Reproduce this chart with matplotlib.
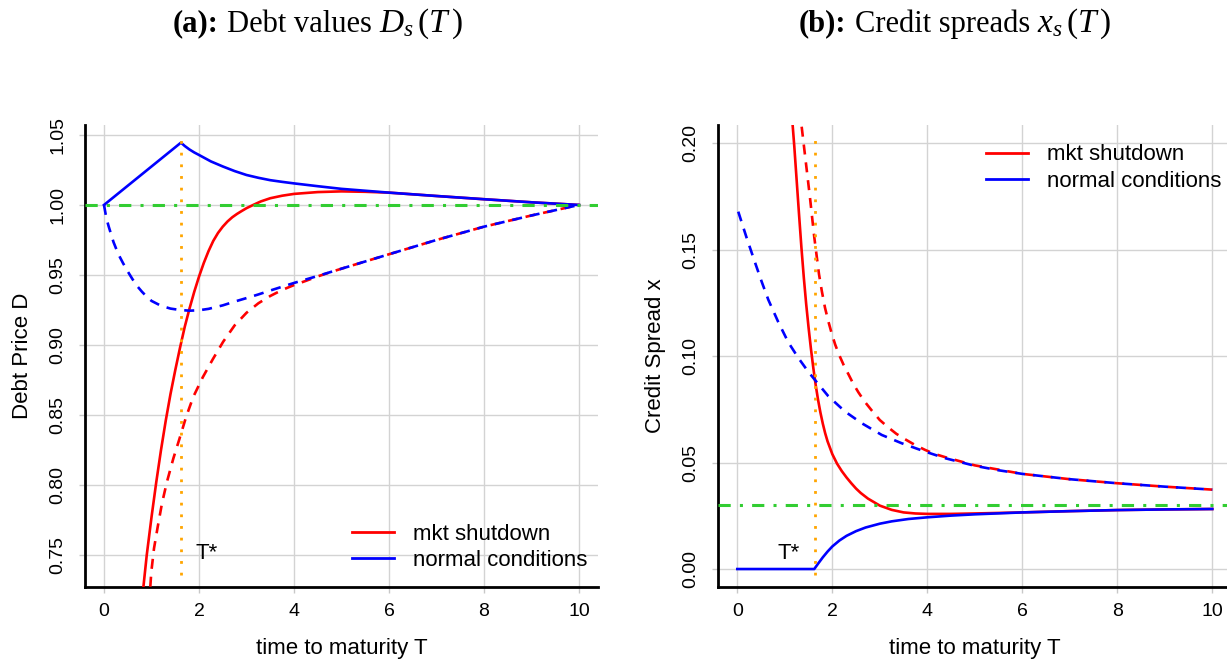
import matplotlib
matplotlib.use("Agg")
import matplotlib.pyplot as plt
from matplotlib.lines import Line2D

# ---------------- data ----------------
T_STAR = 1.63

# Panel (a): debt values D
T_a_norm_solid = [0, 1.62, 1.7, 1.8, 1.9, 2.0, 2.25, 2.5, 2.75, 3.0, 3.25, 3.5, 3.75, 4.0, 4.5, 5.0,
                  6.0, 7.0, 8.0, 9.0, 10.0]
D_a_norm_solid = [1.000, 1.0445, 1.0421, 1.0396, 1.0375, 1.0357, 1.0311, 1.0275, 1.0242, 1.0214,
                  1.0194, 1.0177, 1.0165, 1.0154, 1.0134, 1.0115, 1.0088, 1.0064, 1.0041, 1.0019, 1.000]

T_a_shut_solid = [0.83, 0.9, 1.0, 1.1, 1.2, 1.3, 1.4, 1.5, 1.6, 1.7, 1.8, 1.9, 2.0, 2.1, 2.2, 2.3,
                  2.4, 2.5, 2.6, 2.7, 2.8, 2.9, 3.0, 3.14, 3.3, 3.5, 3.75, 4.0, 4.5, 5.0, 5.5, 6.0,
                  7.0, 8.0, 9.0, 10.0]
D_a_shut_solid = [0.7274, 0.750, 0.777, 0.802, 0.825, 0.846, 0.865, 0.882, 0.898, 0.913, 0.926,
                  0.938, 0.9488, 0.9585, 0.967, 0.9743, 0.980, 0.9845, 0.9882, 0.9912, 0.9936,
                  0.9957, 0.9977, 1.000, 1.0025, 1.0048, 1.0066, 1.0079, 1.0092, 1.0097, 1.0094,
                  1.0088, 1.0064, 1.0041, 1.0019, 1.000]

T_a_shut_dash = [0.975, 0.996, 1.053, 1.13, 1.221, 1.326, 1.46, 1.585, 1.73, 1.88, 2.08, 2.29, 2.51,
                 2.75, 3.0, 3.25, 3.5, 3.75, 4.0, 4.25, 4.5, 4.75, 5.0, 6.0, 7.0, 8.0, 9.0, 10.0]
D_a_shut_dash = [0.7274, 0.738, 0.7548, 0.770, 0.787, 0.8024, 0.819, 0.8326, 0.8488, 0.863, 0.877,
                 0.8898, 0.9024, 0.9140, 0.9230, 0.9298, 0.9350, 0.9393, 0.9428, 0.9458, 0.9490,
                 0.9518, 0.9545, 0.9648, 0.975, 0.9845, 0.9925, 1.000]

T_a_norm_dash = [0, 0.05, 0.1, 0.2, 0.3, 0.4, 0.5, 0.6, 0.7, 0.8, 0.9, 1.0, 1.2, 1.4, 1.6, 1.8,
                 2.0, 2.2, 2.5, 2.75, 3.0, 3.25, 3.5, 3.75, 4.0, 4.5, 5.0, 6.0, 7.0, 8.0, 9.0, 10.0]
D_a_norm_dash = [1.000, 0.9905, 0.9845, 0.9735, 0.9650, 0.9585, 0.9525, 0.9470, 0.9420, 0.9380,
                 0.9345, 0.9315, 0.9280, 0.9260, 0.9250, 0.9245, 0.9248, 0.9258, 0.9283, 0.9310,
                 0.9335, 0.9361, 0.9389, 0.9416, 0.9443, 0.9493, 0.9545, 0.9648, 0.975, 0.9845,
                 0.9925, 1.000]

# Panel (b): credit spreads x
T_b_shut_solid = [1.166, 1.2, 1.25, 1.3, 1.35, 1.4, 1.45, 1.5, 1.55, 1.6, 1.65, 1.7, 1.75, 1.8,
                  1.85, 1.9, 2.0, 2.1, 2.2, 2.3, 2.4, 2.5, 2.6, 2.75, 3.0, 3.25, 3.5, 3.75, 4.0,
                  4.5, 5.0, 6.0, 7.0, 8.0, 9.0, 10.0]
X_b_shut_solid = [0.2083, 0.1985, 0.1825, 0.1665, 0.1510, 0.1370, 0.1245, 0.1135, 0.1035, 0.0945,
                  0.0865, 0.0795, 0.0735, 0.0683, 0.0638, 0.0600, 0.0540, 0.0495, 0.0460, 0.0430,
                  0.0403, 0.0378, 0.0357, 0.0331, 0.0298, 0.0278, 0.0266, 0.0261, 0.0259, 0.0259,
                  0.0261, 0.0266, 0.0272, 0.0277, 0.0280, 0.0282]

T_b_norm_solid = [0, 1.62, 1.7, 1.8, 1.9, 2.0, 2.15, 2.3, 2.5, 2.7, 3.0, 3.25, 3.6, 4.0, 4.5, 5.0,
                  6.0, 7.0, 8.0, 9.0, 10.0]
X_b_norm_solid = [0, 0, 0.0025, 0.0055, 0.0082, 0.0106, 0.0134, 0.0156, 0.0178, 0.0195, 0.0213,
                  0.0224, 0.0235, 0.0243, 0.0251, 0.0257, 0.0266, 0.0272, 0.0277, 0.0280, 0.0282]

T_b_shut_dash = [1.355, 1.425, 1.53, 1.62, 1.72, 1.78, 1.846, 1.915, 1.987, 2.06, 2.14, 2.24, 2.34,
                 2.44, 2.55, 2.68, 2.83, 3.0, 3.18, 3.35, 3.53, 3.74, 3.95, 4.15, 4.37, 5.0, 6.0,
                 7.0, 8.0, 9.0, 10.0]
X_b_shut_dash = [0.2078, 0.1945, 0.1745, 0.1560, 0.1385, 0.1305, 0.1228, 0.1165, 0.1107, 0.1055,
                 0.1008, 0.0958, 0.0915, 0.0871, 0.0830, 0.0787, 0.0745, 0.0700, 0.0665, 0.0635,
                 0.0610, 0.0583, 0.0560, 0.0541, 0.0526, 0.0487, 0.0447, 0.0422, 0.0403, 0.0387,
                 0.0373]

T_b_norm_dash = [0.02, 0.198, 0.373, 0.513, 0.653, 0.863, 1.074, 1.284, 1.5, 1.636, 1.916, 2.267,
                 2.62, 3.04, 3.46, 3.95, 4.37, 5.0, 5.5, 6.0, 7.0, 8.0, 9.0, 10.0]
X_b_norm_dash = [0.1679, 0.1555, 0.1440, 0.1350, 0.1265, 0.1160, 0.1065, 0.0992, 0.0925, 0.0888,
                 0.0812, 0.0740, 0.0685, 0.0630, 0.0591, 0.0552, 0.0521, 0.0485, 0.0464, 0.0447,
                 0.0422, 0.0403, 0.0387, 0.0373]

REF_a = 1.00
REF_b = 0.03

x_ticks = [0, 2, 4, 6, 8, 10]
y_ticks_a = [0.75, 0.80, 0.85, 0.90, 0.95, 1.00, 1.05]
y_ticks_b = [0.00, 0.05, 0.10, 0.15, 0.20]

legend_labels = ["mkt shutdown", "normal conditions"]
title_a = ["(a):", "Debt values", r"$D_s\,(T\,)$"]
title_b = ["(b):", "Credit spreads", r"$x_s\,(T\,)$"]
xlabel = "time to maturity T"
ylabel_a = "Debt Price D"
ylabel_b = "Credit Spread x"

# ---------------- styling ----------------
plt.rcParams['font.family'] = ['Liberation Sans', 'DejaVu Sans']
plt.rcParams['mathtext.fontset'] = 'custom'
plt.rcParams['mathtext.rm'] = 'Liberation Serif'
plt.rcParams['mathtext.it'] = 'Liberation Serif:italic'
plt.rcParams['mathtext.bf'] = 'Liberation Serif:bold'

RED = '#FF0000'
BLUE = '#0000FF'
GREEN = '#32CD32'
ORANGE = '#FFA500'
GRID = '#D3D3D3'
LW = 1.9
DASH = (0, (3.8, 3.0))

W, H = 1227, 660
fig = plt.figure(figsize=(W / 100, H / 100), dpi=100)


def px_axes(l, r, t, b):
    return fig.add_axes([l / W, 1 - b / H, (r - l) / W, (b - t) / H])


axA = px_axes(85, 598, 125, 586.7)
axB = px_axes(718.3, 1231.3, 125, 586.7)


def style(ax, ylim, yticks, fmt):
    ax.set_xlim(-0.4, 10.4)
    ax.set_ylim(*ylim)
    ax.set_xticks(x_ticks)
    ax.set_yticks(yticks)
    ax.set_yticklabels([fmt.format(v) for v in yticks])
    ax.grid(True, color=GRID, lw=1.0)
    ax.set_axisbelow(True)
    for s in ['top', 'right']:
        ax.spines[s].set_visible(False)
    for s in ['left', 'bottom']:
        ax.spines[s].set_linewidth(2.0)
    ax.tick_params(axis='both', color='#C8C8C8', length=4.5, width=1.0, labelsize=14)
    ax.tick_params(axis='x', pad=7)
    ax.tick_params(axis='y', labelrotation=90, pad=9)
    for lab in ax.get_yticklabels():
        lab.set_va('center')


style(axA, (0.7274, 1.0571), y_ticks_a, "{:.2f}")
style(axB, (-0.0083, 0.2086), y_ticks_b, "{:.2f}")

GREEN_LS = (0, (4, 3, 1, 3))
ORANGE_LS = (0, (1, 3.2))

# panel (a)
axA.plot(T_a_shut_solid, D_a_shut_solid, color=RED, lw=LW, zorder=3)
axA.plot(T_a_shut_dash, D_a_shut_dash, color=RED, lw=LW, ls=DASH, zorder=3)
axA.plot(T_a_norm_solid, D_a_norm_solid, color=BLUE, lw=LW, zorder=4)
axA.plot(T_a_norm_dash, D_a_norm_dash, color=BLUE, lw=LW, ls=DASH, zorder=4)
axA.axhline(REF_a, color=GREEN, lw=2.2, ls=GREEN_LS, zorder=5)
axA.plot([T_STAR, T_STAR], [0.736, 1.05], color=ORANGE, lw=2.0, ls=ORANGE_LS, zorder=6)
axA.text(T_STAR + 0.53, 0.751, "T*", fontsize=16, ha='center', va='center')

# panel (b)
axB.plot(T_b_shut_solid, X_b_shut_solid, color=RED, lw=LW, zorder=3)
axB.plot(T_b_shut_dash, X_b_shut_dash, color=RED, lw=LW, ls=DASH, zorder=3)
axB.plot(T_b_norm_solid, X_b_norm_solid, color=BLUE, lw=LW, zorder=4)
axB.plot(T_b_norm_dash, X_b_norm_dash, color=BLUE, lw=LW, ls=DASH, zorder=4)
axB.axhline(REF_b, color=GREEN, lw=2.2, ls=GREEN_LS, zorder=5)
axB.plot([T_STAR, T_STAR], [-0.0028, 0.204], color=ORANGE, lw=2.0, ls=ORANGE_LS, zorder=6)
axB.text(T_STAR - 0.54, 0.0073, "T*", fontsize=16, ha='center', va='center')

handles = [Line2D([], [], color=RED, lw=2.0), Line2D([], [], color=BLUE, lw=2.0)]
legkw = dict(loc='upper left', bbox_transform=fig.transFigure, borderpad=0, borderaxespad=0,
             handlelength=1.9, handletextpad=0.85, labelspacing=0.25, frameon=False, fontsize=16)
axA.legend(handles, legend_labels, bbox_to_anchor=(351.7 / W, 1 - 523.5 / H), **legkw)
axB.legend(handles, legend_labels, bbox_to_anchor=(985.7 / W, 1 - 144.5 / H), **legkw)

# axis labels
fig.text(341.5 / W, 1 - 654 / H, xlabel, fontsize=16, ha='center', va='baseline')
fig.text(974.8 / W, 1 - 654 / H, xlabel, fontsize=16, ha='center', va='baseline')
fig.text(23 / W, 1 - 356 / H, ylabel_a, fontsize=16, rotation=90, ha='center', va='center')
fig.text(655 / W, 1 - 356 / H, ylabel_b, fontsize=16, rotation=90, ha='center', va='center')


# panel titles: bold tag + serif words + math, laid out side by side
def title(pieces, cx, baseline_px):
    kws = [dict(fontsize=22, family='Liberation Serif', weight='bold'),
           dict(fontsize=22, family='Liberation Serif'),
           dict(fontsize=24, family='Liberation Serif')]
    texts = [fig.text(0, 1 - baseline_px / H, s, ha='left', va='baseline', **kw)
             for s, kw in zip(pieces, kws)]
    fig.canvas.draw()
    r = fig.canvas.get_renderer()
    widths = [t.get_window_extent(r).width for t in texts]
    gaps = [9, 7]
    total = sum(widths) + sum(gaps)
    x = cx - total / 2
    for i, t in enumerate(texts):
        t.set_x(x / W)
        x += widths[i] + (gaps[i] if i < len(gaps) else 0)


title(title_a, 317.5, 31.7)
title(title_b, 955, 31.7)

fig.savefig("out.png", dpi=100)
